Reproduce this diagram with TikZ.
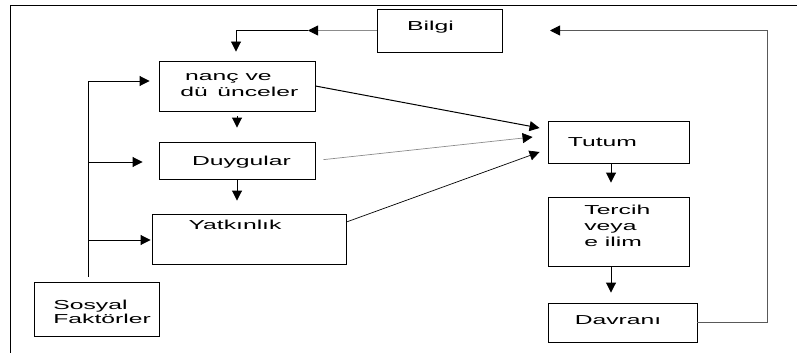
\documentclass[tikz,border=0pt]{standalone}
\usepackage{fontspec}
\setmainfont{Liberation Sans}
\usetikzlibrary{arrows.meta}

\begin{document}
\begin{tikzpicture}[x=1pt,y=-1pt,
  box/.style={draw, line width=0.9pt, inner sep=0pt},
  txt/.style={inner sep=0pt, font=\fontsize{13}{16}\selectfont, align=left, xscale=1.9, transform shape},
  arr/.style={-{Triangle[length=10pt,width=10pt]}, line width=0.9pt},
  lightarr/.style={-{Triangle[length=10pt,width=10pt,color=black]}, line width=0.9pt, draw=black!45}]

\useasboundingbox (0,0) rectangle (797,353);

% frame
\draw[line width=0.9pt] (797,5) -- (10,5) -- (10,353);

% boxes
\node[box, minimum width=125pt, minimum height=43pt] (bilgi) at (439.5,30.5) {};
\node[box, minimum width=156pt, minimum height=50pt] (inanc) at (237,86) {};
\node[box, minimum width=156pt, minimum height=37pt] (duygular) at (237,160.5) {};
\node[box, minimum width=194pt, minimum height=50pt] (yatkinlik) at (249,239) {};
\node[box, minimum width=125pt, minimum height=54pt] (sosyal) at (96.5,309) {};
\node[box, minimum width=141pt, minimum height=42pt] (tutum) at (618.5,142) {};
\node[box, minimum width=141pt, minimum height=69pt] (tercih) at (618.5,231.5) {};
\node[box, minimum width=149pt, minimum height=39pt] (davranis) at (622.5,322.5) {};

% texts
\node[txt] (bilgiT) at (430.5,27.3) {Bilgi};
\node[txt, anchor=west] (inancT) at (180,85) {\hspace*{2.5pt}nanç ve\\dü\hspace{5pt}ünceler};
\node[txt] (duygularT) at (241.5,162.5) {Duygular};
\node[txt] (yatkinlikT) at (235,225) {Yatkınlık};
\node[txt, anchor=west, font=\fontsize{13}{14}\selectfont] (sosyalT) at (53,311.5) {Sosyal\\Faktörler};
\node[txt] (tutumT) at (602.5,142.5) {Tutum};
\node[txt, anchor=west] (tercihT) at (584,226) {Tercih\\veya\\e ilim};
\node[txt] (davranisT) at (618,320) {Davranı};

% Bilgi to inanc
\coordinate (bmid) at (308,30.5);
\coordinate (bcorner) at (236,30.5);
\draw[lightarr] (bilgi.west) -- (bmid);
\draw[arr, shorten >=9pt] (bmid) -- (bcorner) -- (bcorner |- inanc.north);

% social factors
\coordinate (ftop) at (88,81);
\coordinate (fmid) at (88,162);
\coordinate (flow) at (88,240);
\draw[line width=0.9pt, shorten <=5pt] (sosyal.north -| ftop) -- (ftop);
\draw[arr, shorten >=9pt] (ftop) -- (ftop -| inanc.west);
\draw[arr, shorten >=16pt] (fmid) -- (fmid -| duygular.west);
\draw[arr, shorten >=1pt] (flow) -- (flow -| yatkinlik.west);

% chain on the left
\draw[arr, shorten <=5pt, shorten >=14pt] (inanc.south) -- (duygular.north);
\draw[arr, shorten >=13pt] (duygular.south) -- (duygular.south |- yatkinlik.north);

% into Tutum
\coordinate (tin1) at ([shift={(-8,-14)}]tutum.west);
\coordinate (tin2) at ([shift={(-15,-5)}]tutum.west);
\coordinate (tin3) at ([shift={(-8,10)}]tutum.west);
\draw[arr, line width=1pt] (inanc.east) -- (tin1);
\draw[lightarr, line width=0.7pt, shorten <=8pt] (duygular.east) -- (tin2);
\draw[arr, line width=0.7pt] ([shift={(0,-17)}]yatkinlik.east) -- (tin3);

% chain on the right
\draw[arr, shorten >=14pt] ([xshift=-7.5pt]tutum.south) -- ([xshift=-7.5pt]tercih.north);
\draw[arr, shorten >=10pt] ([xshift=-7.5pt]tercih.south) -- ([xshift=-7.5pt]tercih.south |- davranis.north);

% feedback
\coordinate (fbtop) at (767,30.5);
\coordinate (fbend) at (550,30.5);
\draw[lightarr, draw=black!65] (davranis.east) -| (fbtop) -- (fbend);

\end{tikzpicture}
\end{document}
